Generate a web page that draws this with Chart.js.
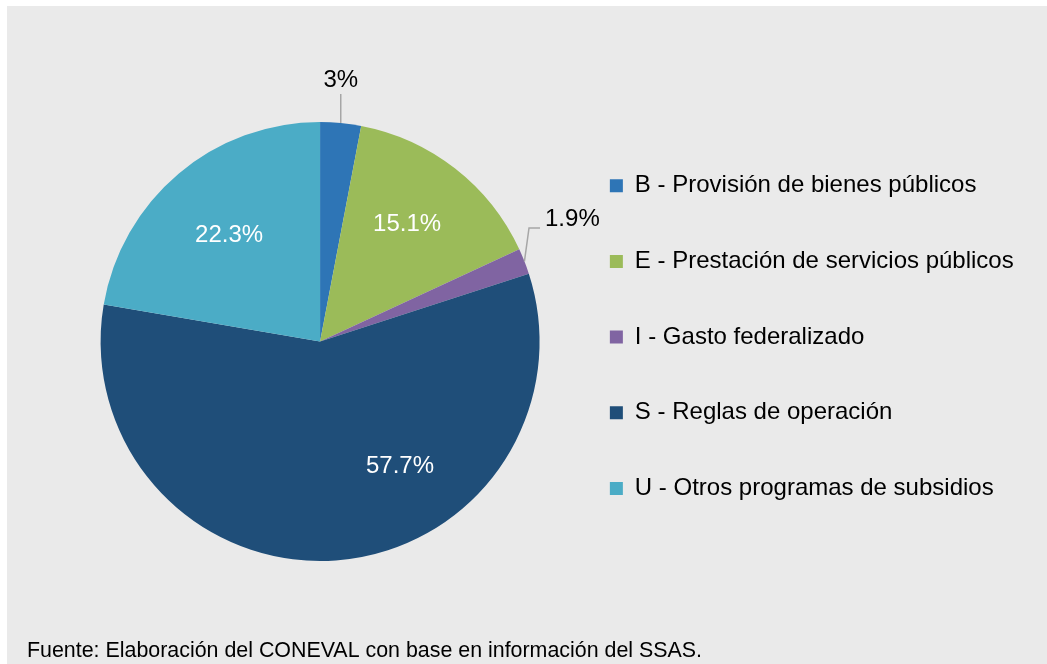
<!DOCTYPE html>
<html>
<head>
<meta charset="utf-8">
<script src="https://cdn.jsdelivr.net/npm/chart.js@4"></script>
<style>
  html, body { margin: 0; padding: 0; background: #ffffff; }
  #wrap { position: absolute; left: 7px; top: 6px; width: 1040px; height: 658px; background: #eaeaea; }
</style>
</head>
<body>
<div id="wrap"><canvas id="pieChart"></canvas></div>
<script>
// Data
const categories = [
    'B - Provisión de bienes públicos',
    'E - Prestación de servicios públicos',
    'I - Gasto federalizado',
    'S - Reglas de operación',
    'U - Otros programas de subsidios'
];
const shares = [3, 15.1, 1.9, 57.7, 22.3];
const sliceColors = ['#2e75b6', '#9bbb59', '#8064a2', '#1f4e79', '#4bacc6'];
const sourceNote = 'Fuente: Elaboración del CONEVAL con base en información del SSAS.';

// label placement (style only): inside labels sit at a fraction of the slice angle / radius,
// outside labels hang off a leader line that starts at the slice edge
const labelInside = [false, true, false, true, true];
const labelAngleFrac = [0.5, 0.473, 0.5, 0.3625, 0.4955];
const labelRadiusFrac = [0, 0.666, 0, 0.674, 0.638];
const leaderPts = [
    [[0, -29]],
    null,
    [[4.6, -33.4], [15.6, -33.4]],
    null, null
];
const leaderText = [
    { dx: 0, dy: -42.5, align: 'center' },
    null,
    { dx: 20.6, dy: -41.6, align: 'left' },
    null, null
];

const FONT = '"Liberation Sans", Arial, sans-serif';

const pieLabels = {
    id: 'pieLabels',
    afterDatasetsDraw(chart) {
        const ctx = chart.ctx;
        const meta = chart.getDatasetMeta(0);
        ctx.save();
        ctx.font = '24px ' + FONT;
        ctx.textBaseline = 'middle';
        meta.data.forEach((arc, i) => {
            const { x, y, startAngle, endAngle, outerRadius } = arc.getProps(['x', 'y', 'startAngle', 'endAngle', 'outerRadius'], true);
            const txt = shares[i] + '%';
            if (labelInside[i]) {
                const a = startAngle + (endAngle - startAngle) * labelAngleFrac[i];
                const r = outerRadius * labelRadiusFrac[i];
                ctx.fillStyle = '#ffffff';
                ctx.textAlign = 'center';
                ctx.fillText(txt, x + r * Math.cos(a), y + r * Math.sin(a));
            } else {
                const a = (startAngle + endAngle) / 2;
                const ex = x + outerRadius * Math.cos(a);
                const ey = y + outerRadius * Math.sin(a);
                ctx.strokeStyle = '#a6a6a6';
                ctx.lineWidth = 1.5;
                ctx.beginPath();
                ctx.moveTo(ex, ey);
                leaderPts[i].forEach(p => ctx.lineTo(ex + p[0], ey + p[1]));
                ctx.stroke();
                const t = leaderText[i];
                ctx.fillStyle = '#000000';
                ctx.textAlign = t.align;
                ctx.fillText(txt, ex + t.dx, ey + t.dy);
            }
        });
        ctx.restore();
    },
    afterDraw(chart) {
        const ctx = chart.ctx;
        ctx.save();
        ctx.font = '22px ' + FONT;
        ctx.fillStyle = '#000000';
        ctx.textAlign = 'left';
        ctx.textBaseline = 'alphabetic';
        ctx.fillText(sourceNote, 20, 651, 675);
        ctx.restore();
    }
};

new Chart(document.getElementById('pieChart'), {
    type: 'pie',
    data: {
        labels: categories,
        datasets: [{
            data: shares,
            backgroundColor: sliceColors,
            borderWidth: 0,
            hoverOffset: 0
        }]
    },
    options: {
        responsive: true,
        maintainAspectRatio: false,
        animation: false,
        events: [],
        layout: { padding: { top: 116, bottom: 103, left: 75, right: 23.3 } },
        plugins: {
            tooltip: { enabled: false },
            legend: {
                position: 'right',
                align: 'start',
                maxWidth: 700,
                labels: {
                    boxWidth: 13,
                    boxHeight: 13,
                    padding: 51.7,
                    color: '#000000',
                    font: { size: 24, family: FONT }
                }
            }
        }
    },
    plugins: [pieLabels]
});
</script>
</body>
</html>
